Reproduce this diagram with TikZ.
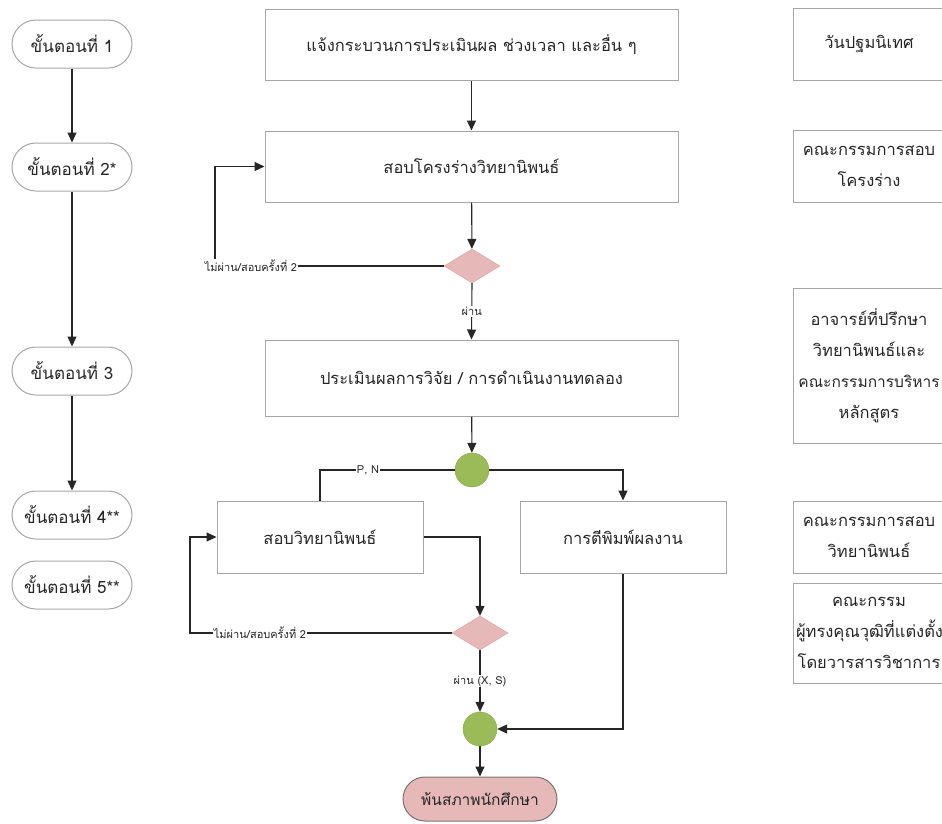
\documentclass[tikz,border=0pt]{standalone}
\usepackage{fontspec}
\setmainfont[Script=Thai]{Loma}
\usepackage{tikz}
\usetikzlibrary{shapes.geometric, arrows.meta, positioning}
\definecolor{boxline}{HTML}{A6A6A6}
\definecolor{flowline}{HTML}{262626}
\definecolor{pinkfill}{HTML}{E6B9B8}
\definecolor{pinkline}{HTML}{D4A3A1}
\definecolor{greenfill}{HTML}{9BBB59}
\definecolor{greenline}{HTML}{86A84A}
\tikzstyle{arrow} = [line width=1.1pt, draw=flowline, -{Triangle[length=10pt,width=9pt]}]
\tikzstyle{link} = [line width=1.1pt, draw=flowline]
\tikzstyle{steppill} = [draw=boxline, line width=1pt, rounded corners=24pt, minimum width=120pt, minimum height=48pt, text=flowline, font=\fontsize{17}{19}\selectfont]
\tikzstyle{procbox} = [draw=boxline, line width=1pt, text=flowline, font=\fontsize{16.5}{19}\selectfont]
\tikzstyle{sidebox} = [draw=boxline, line width=1pt, inner xsep=3pt, text width=146pt, align=center, text=flowline, font=\fontsize{16.5}{31}\selectfont]
\tikzstyle{decision} = [diamond, draw=pinkline, fill=pinkfill, inner sep=0pt, minimum width=56pt, minimum height=34pt, aspect=1.65]
\tikzstyle{joint} = [circle, draw=greenline, fill=greenfill, inner sep=0pt, minimum size=34pt]
\tikzstyle{lbl} = [fill=white, inner sep=1pt, text=flowline, font=\fontsize{11}{12}\selectfont]

\begin{document}
\begin{tikzpicture}[x=1pt, y=-1pt]
    \useasboundingbox (0,0) rectangle (942,823);
    % steps on the left
    \foreach \n/\y/\t in {s1/44/1, s2/167/2*, s3/371/3, s4/515/4**, s5/585/5**} {
        \node[steppill] (\n) at (72,\y) {ขั้นตอนที่ \t};
    }
    \draw[arrow] (s1) -- (s2);
    \draw[arrow] (s2) -- (s3);
    \draw[arrow] (s3) -- (s4);

    % main flow
    \node[procbox, minimum width=413pt, minimum height=71pt] (inform) at (471.5,44.5) {แจ้งกระบวนการประเมินผล ช่วงเวลา และอื่น ๆ};
    \node[procbox, minimum width=413pt, minimum height=71pt] (proposal) at (471.5,166.5) {สอบโครงร่างวิทยานิพนธ์};
    \node[decision] (check1) at (472,266) {};
    \node[procbox, minimum width=413pt, minimum height=76pt] (research) at (471.5,378) {ประเมินผลการวิจัย / การดำเนินงานทดลอง};
    \node[joint] (split) at (472,470) {};
    \node[procbox, minimum width=206pt, minimum height=72pt] (defense) at (320,537) {สอบวิทยานิพนธ์};
    \node[procbox, minimum width=206pt, minimum height=72pt] (publish) at (623,537) {การตีพิมพ์ผลงาน};
    \node[decision] (check2) at (480,633) {};
    \node[joint] (merge) at (480,729) {};
    \node[draw=boxline!70!black, fill=pinkfill, line width=1pt, rounded corners=22pt, minimum width=154pt, minimum height=44pt, text=flowline, font=\fontsize{15.5}{18}\selectfont] (finish) at (480,799) {พ้นสภาพนักศึกษา};

    \coordinate (back1) at (215,266);
    \coordinate (back2) at (190,633);

    \draw[arrow] (inform) -- (proposal);
    \draw[arrow] (proposal) -- (check1);
    \draw[arrow] (check1.west) -- (back1) |- (proposal.west);
    \node[lbl] (fail1) at (251,266) {ไม่ผ่าน/สอบครั้งที่ 2};
    \draw[arrow] (check1.south) -- node[lbl] (pass1) {ผ่าน} (research.north);
    \draw[arrow] (research) -- (split);
    \draw[link] (split.west) -| (defense.north);
    \node[lbl] (pn) at (368,470) {P, N};
    \draw[arrow] (split.east) -| (publish.north);
    \draw[arrow] (defense.east) -| (check2.north);
    \draw[arrow] (check2.west) -- (back2) |- (defense.west);
    \node[lbl] (fail2) at (260,633) {ไม่ผ่าน/สอบครั้งที่ 2};
    \draw[arrow] (check2.south) -- node[lbl] (pass2) {ผ่าน (X, S)} (merge.north);
    \draw[arrow] (publish.south) |- (merge.east);
    \draw[arrow] (merge) -- (finish);

    % who is in charge
    \node[sidebox, minimum height=72pt] (orient) at (869,44) {วันปฐมนิเทศ};
    \node[sidebox, minimum height=72pt] (propcom) at (869,166) {คณะกรรมการสอบ\\โครงร่าง};
    \node[sidebox, minimum height=155pt] (advisor) at (869,365.5) {อาจารย์ที่ปรึกษา\\วิทยานิพนธ์และ\\{\fontsize{15.5}{31}\selectfont คณะกรรมการบริหาร}\\หลักสูตร};
    \node[sidebox, minimum height=72pt] (thesiscom) at (869,537) {คณะกรรมการสอบ\\วิทยานิพนธ์};
    \node[sidebox, minimum height=100pt] (reviewer) at (869,633) {คณะกรรม\\ผู้ทรงคุณวุฒิที่แต่งตั้ง\\โดยวารสารวิชาการ};
\end{tikzpicture}
\end{document}
